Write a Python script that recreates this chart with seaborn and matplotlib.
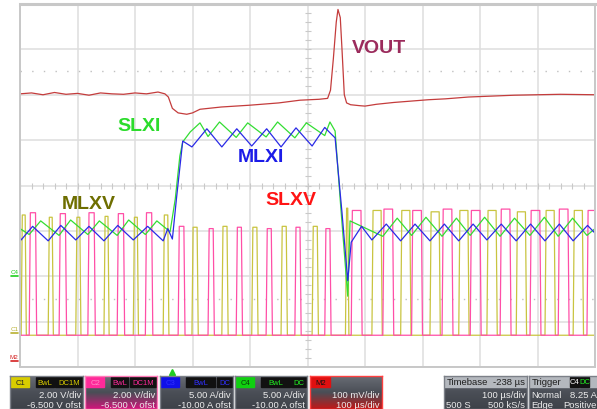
import matplotlib
matplotlib.use("Agg")
import matplotlib.pyplot as plt
from matplotlib.colors import LinearSegmentedColormap
from matplotlib.patches import Rectangle
import numpy as np
import pandas as pd
import seaborn as sns

# time in us from the left edge of the screen (100 us/div), level in screen divisions (0 = bottom)
vout_t = [0, 20, 40, 60, 80, 100, 120, 140, 160, 180, 200, 220, 240, 252, 258, 265, 275, 290, 300, 313,
          350, 400, 450, 487, 520, 535, 540, 545, 550, 553, 557, 560, 564, 568, 575, 590, 600, 620, 650, 680,
          710, 740, 780, 820, 860, 900, 940, 1000]
vout_v = [6.02, 6.04, 6.00, 6.05, 6.01, 6.03, 5.99, 6.04, 6.02, 6.01, 6.04, 6.02, 6.06, 6.02, 5.95, 5.70, 5.60, 5.57, 5.60, 5.68,
          5.73, 5.77, 5.82, 5.88, 5.90, 5.92, 6.10, 6.80, 7.60, 7.88, 7.70, 7.00, 6.00, 5.82, 5.78, 5.76, 5.75, 5.79, 5.83, 5.86,
          5.89, 5.91, 5.95, 5.97, 5.99, 6.00, 6.01, 6.00]

slxi_t = [0, 16, 36, 68, 88, 118, 138, 169, 189, 218, 238, 261, 270, 278, 283, 296, 313, 327, 347, 376, 396,
          428, 448, 478, 498, 530, 539, 548, 558, 570, 574, 631, 656, 681, 706, 734, 759, 783, 808, 835, 860,
          887, 912, 936, 961, 986, 1000]
slxi_v = [3.05, 2.92, 3.22, 2.90, 3.24, 2.92, 3.22, 2.90, 3.24, 2.92, 3.22, 2.98, 3.70, 4.65, 4.96, 5.18, 5.38, 5.08, 5.40, 5.06, 5.38,
          5.07, 5.40, 5.05, 5.38, 5.10, 5.40, 5.20, 3.50, 1.56, 3.22, 2.88, 3.28, 2.90, 3.30, 2.88, 3.28, 2.90, 3.30, 2.88, 3.28,
          2.90, 3.30, 2.88, 3.28, 2.90, 3.05]

mlxi_t = [0, 2, 22, 49, 71, 97, 120, 146, 170, 197, 222, 249, 257, 265, 272, 283, 299, 325, 351, 377,
          403, 429, 454, 480, 508, 530, 540, 548, 560, 570, 576, 594, 612, 637, 662, 687, 713, 738, 763, 788,
          812, 837, 863, 888, 913, 938, 962, 987, 1000]
mlxi_v = [2.85, 2.80, 3.10, 2.78, 3.12, 2.80, 3.10, 2.78, 3.12, 2.80, 3.10, 2.78, 3.05, 2.82, 3.70, 4.98, 4.85, 5.25, 4.85, 5.25,
          4.87, 5.25, 4.85, 5.27, 4.87, 5.28, 5.15, 5.05, 3.40, 1.90, 2.75, 3.10, 2.80, 3.15, 2.78, 3.15, 2.78, 3.15, 2.78, 3.15,
          2.80, 3.15, 2.78, 3.15, 2.78, 3.15, 2.78, 3.12, 2.95]

# switch-node pulses: rising edge, falling edge, top level
mlxv_rise = [2, 49, 97, 146, 197, 249, 299, 351, 403, 454, 508, 566, 612, 662, 713, 763, 812, 863, 913, 962]
mlxv_fall = [9, 56, 104, 153, 204, 257, 308, 360, 412, 463, 517, 570, 628, 678, 729, 779, 828, 879, 929, 978]
mlxv_top = [3.35, 3.30, 3.30, 3.32, 3.30, 3.35, 3.08, 3.10, 3.08, 3.10, 3.10, 3.50, 3.45, 3.45, 3.42, 3.45, 3.45, 3.42, 3.45, 3.45]

slxv_rise = [16, 68, 118, 169, 218, 275, 327, 376, 428, 478, 530, 576, 631, 681, 734, 783, 835, 887, 936, 986]
slxv_fall = [27, 79, 129, 180, 229, 285, 336, 385, 437, 487, 539, 593, 648, 698, 751, 800, 852, 904, 953, 1003]
slxv_top = [3.40, 3.38, 3.40, 3.38, 3.40, 3.10, 3.05, 3.08, 3.05, 3.08, 3.05, 3.45, 3.48, 3.45, 3.48, 3.45, 3.48, 3.45, 3.48, 3.45]
sw_low = 0.70

W, H = 597, 410


def pulse_train(rise, fall, top, low):
    t, v = [0], [low]
    for r, f, h in zip(rise, fall, top):
        t += [r, r + 2, f, f + 2]
        v += [low, h, h, low]
    t.append(1000)
    v.append(low)
    return pd.DataFrame({"t": t, "v": v})


sns.set_style("white")
plt.rcParams['font.family'] = ['Liberation Sans', 'DejaVu Sans']

fig = plt.figure(figsize=(W / 100, H / 100), dpi=100)
ax = fig.add_axes([20 / W, 42 / H, 575 / W, 363 / H])

# Grid like the scope screen
ax.set_xlim(0, 1000)
ax.set_ylim(0, 8)
ax.set_xticks(range(0, 1001, 100))
ax.set_yticks(range(0, 9))
ax.grid(True, color='#dedede', lw=1.1)
ax.tick_params(length=0, labelbottom=False, labelleft=False)
for s in ax.spines.values():
    s.set_color('#c8c8c8')
    s.set_linewidth(1.4)
ax.spines['top'].set_linewidth(2.2)
ax.plot(np.arange(0, 1001, 20), np.full(51, 4.0), ls='none', marker='|', ms=4, mew=0.8, color='#c9c9c9')
ax.plot(np.full(41, 500.0), np.arange(0, 8.01, 0.2), ls='none', marker='_', ms=4, mew=0.8, color='#c9c9c9')
ax.axhline(6.52, color='#c0c0c0', lw=1.0, dashes=(1, 7.4))
ax.axhline(1.50, color='#c0c0c0', lw=1.0, dashes=(1, 7.4))

# Traces
sns.lineplot(data=pulse_train(mlxv_rise, mlxv_fall, mlxv_top, sw_low), x='t', y='v', ax=ax,
             color='#c9c440', lw=0.9, sort=False, estimator=None)
sns.lineplot(data=pulse_train(slxv_rise, slxv_fall, slxv_top, sw_low), x='t', y='v', ax=ax,
             color='#ff4fa7', lw=0.9, sort=False, estimator=None)
sns.lineplot(x=slxi_t, y=slxi_v, ax=ax, color='#33dd33', lw=0.9, sort=False, estimator=None)
sns.lineplot(x=mlxi_t, y=mlxi_v, ax=ax, color='#2a2ae6', lw=0.9, sort=False, estimator=None)
sns.lineplot(x=vout_t, y=vout_v, ax=ax, color='#c43c3c', lw=0.9, sort=False, estimator=None)
ax.set_xlabel('')
ax.set_ylabel('')

# Trace names
lab = dict(fontsize=14, fontweight='bold', va='center')
ax.text(577, 7.05, 'VOUT', color='#9b2b5c', **lab)
ax.text(169, 5.33, 'SLXI', color='#2bdc2b', **lab)
ax.text(379, 4.63, 'MLXI', color='#1c1ce8', **lab)
ax.text(73, 3.61, 'MLXV', color='#6e6e00', **lab)
ax.text(426, 3.70, 'SLXV', color='#ff1414', **lab)

# Channel offset markers on the left edge, trigger marker below
for name, lvl, col in [('C4', 2.0, '#1ccf1c'), ('C1', 0.75, '#b8b030'), ('M2', 0.13, '#d42020')]:
    ax.text(-3, lvl + 0.04, name, color=col, fontsize=4.5, ha='right', va='bottom', clip_on=False)
    ax.plot([-15, -3], [lvl, lvl], color=col, lw=1.2, clip_on=False)
ax.plot([264], [-0.12], marker='^', ms=4.5, color='#22cc22', clip_on=False)


# Info bar at the bottom
def box(x0, x1, accent=None, border='#7c8088'):
    bx = fig.add_axes([x0 / W, 0, (x1 - x0) / W, 33 / H])
    bottom = accent if accent else '#3e4249'
    cmap = LinearSegmentedColormap.from_list('g', ['#686c74', '#4a4e56', bottom])
    bx.imshow(np.linspace(0, 1, 50).reshape(-1, 1), cmap=cmap, extent=[0, 1, 0, 1], aspect='auto')
    bx.set_xlim(0, 1)
    bx.set_ylim(0, 1)
    bx.set_xticks([])
    bx.set_yticks([])
    for s in bx.spines.values():
        s.set_color(border)
        s.set_linewidth(1.0)
    return bx


def badge(bx, x0, x1, text, fg, bg):
    bx.add_patch(Rectangle((x0, 0.66), x1 - x0, 0.30, color=bg))
    bx.text((x0 + x1) / 2, 0.80, text, color=fg, fontsize=5.5, ha='center', va='center')


txt = dict(color='#ececec', fontsize=6.8, va='center')
channels = [
    (10, 83, 'C1', '#d8cc00', '#222222', '#d8cc00', ('DC1M', 0.62), '2.00 V/div', '-6.500 V ofst', None, '#7c8088'),
    (85, 157, 'C2', '#ff2a9a', '#ff8fc8', '#ff2a9a', ('DC1M', 0.62), '2.00 V/div', '-6.500 V ofst', '#d0157a', '#ff7ab8'),
    (160, 233, 'C3', '#1010e8', '#3030ff', '#3030ff', ('DC', 0.78), '5.00 A/div', '-10.00 A ofst', None, '#7c8088'),
    (235, 307, 'C4', '#10d010', '#0a3a0a', '#22ee22', ('DC', 0.78), '5.00 A/div', '-10.00 A ofst', None, '#7c8088'),
]
for x0, x1, name, bg, fg, tagc, (cpl, cx), l1, l2, acc, brd in channels:
    bx = box(x0, x1, acc, brd)
    badge(bx, 0.02, 0.26, name, fg, bg)
    badge(bx, 0.36, cx - 0.02, 'BwL', tagc, '#111111')
    badge(bx, cx, 0.99, cpl, tagc, '#111111')
    bx.text(0.97, 0.45, l1, ha='right', **txt)
    bx.text(0.97, 0.15, l2, ha='right', **txt)

bx = box(310, 382, '#c01818', '#ff4040')
badge(bx, 0.02, 0.28, 'M2', '#111111', '#e01010')
bx.text(0.97, 0.45, '100 mV/div', ha='right', **txt)
bx.text(0.97, 0.15, '100 \u00b5s/div', ha='right', **txt)

bx = box(444, 527)
bx.add_patch(Rectangle((0, 0.66), 1, 0.34, color='#b4b8be'))
bx.text(0.03, 0.82, 'Timebase', color='#1e1e1e', fontsize=6.8, va='center')
bx.text(0.98, 0.82, '-238 \u00b5s', color='#1e1e1e', fontsize=6.8, va='center', ha='right')
bx.text(0.98, 0.45, '100 \u00b5s/div', ha='right', **txt)
bx.text(0.03, 0.15, '500 S', **txt)
bx.text(0.98, 0.15, '500 kS/s', ha='right', **txt)

bx = box(529, 620)
bx.add_patch(Rectangle((0, 0.66), 1, 0.34, color='#b4b8be'))
bx.text(0.03, 0.82, 'Trigger', color='#1e1e1e', fontsize=6.8, va='center')
bx.add_patch(Rectangle(((570 - 529) / 91, 0.68), 9 / 91, 0.28, color='#111111'))
bx.text((574.5 - 529) / 91, 0.82, 'C4', color='#ffffff', fontsize=5.5, ha='center', va='center')
bx.add_patch(Rectangle(((580 - 529) / 91, 0.68), 9 / 91, 0.28, color='#111111'))
bx.text((584.5 - 529) / 91, 0.82, 'DC', color='#22ee22', fontsize=5.5, ha='center', va='center')
bx.text(0.03, 0.45, 'Normal', **txt)
bx.text((597 - 529) / 91, 0.45, '8.25 A', ha='right', **txt)
bx.text(0.03, 0.15, 'Edge', **txt)
bx.text((597 - 529) / 91, 0.15, 'Positive', ha='right', **txt)

fig.savefig('out.png', dpi=100, facecolor='white')
